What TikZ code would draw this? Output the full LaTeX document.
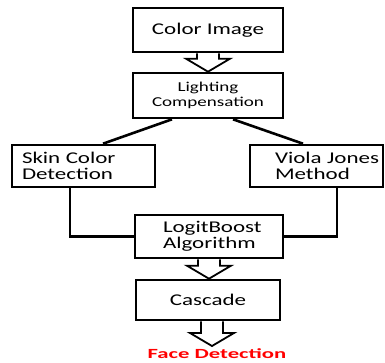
\documentclass[tikz,border=0pt]{standalone}
\usepackage{fontspec}
\setmainfont{Carlito}[FakeStretch=1.4]
\newfontfamily\facefont{Carlito}[FakeStretch=1.62]
\usetikzlibrary{calc}

\tikzset{
  box/.style={draw, line width=2.6pt, inner ysep=0pt, font=\fontsize{16.4}{16}\selectfont},
  hollow/.style={draw, line width=1.8pt, line join=miter},
}

% fat outlined arrow, from the bottom of #1 down to #2
\newcommand{\blockarrow}[2]{%
  \draw[hollow] let \p1=(#1), \p2=(#2) in
    (\x1-11pt,\y1) -- (\x1-11pt,\y2+13pt) -- (\x1-22pt,\y2+13pt) -- (\x1,\y2)
    -- (\x1+22pt,\y2+13pt) -- (\x1+11pt,\y2+13pt) -- (\x1+11pt,\y1);
}

\begin{document}
\begin{tikzpicture}[x=1pt, y=-1pt]
\useasboundingbox (0,0) rectangle (385,362);

\node (ci) at (208, 30) [box, minimum width=150pt, minimum height=44pt] {Color Image};
\node (lc) at (208, 95.5) [box, minimum width=150pt, minimum height=45pt, align=center,
    font=\fontsize{13.6}{14.5}\selectfont] {Lighting\\Compensation};
\node (skin) at (83.5, 166) [box, text width=123pt, inner xsep=10pt, minimum height=42pt, align=left] {Skin Color\\Detection};
\node (viola) at (316.5, 166) [box, text width=83pt, inner xsep=25pt, minimum height=42pt, align=left] {Viola~Jones\\Method};
\node (lb) at (209, 236.5) [box, text width=92pt, inner xsep=28pt, minimum height=43pt, align=left] {LogitBoost\\Algorithm};
\node (cas) at (208, 300) [box, minimum width=144pt, minimum height=40pt] {Cascade};
\node (face) at (217, 348) [anchor=north, inner sep=0pt, text=red,
    font=\facefont\bfseries\fontsize{14}{15}\selectfont] {Face Detection};

\blockarrow{ci.south}{lc.north}
\draw[line width=2.6pt] ([xshift=-36pt]lc.south) -- ([xshift=19.5pt]skin.north);
\draw[line width=2.6pt] ([xshift=25pt]lc.south) -- ([xshift=-13.5pt]viola.north);
\draw[line width=2.6pt] ([xshift=-13.5pt]skin.south) |- (lb.west);
\draw[line width=2.6pt] ([xshift=20.5pt]viola.south) |- (lb.east);
\blockarrow{lb.south}{cas.north}
\blockarrow{[xshift=4pt]cas.south}{[yshift=2pt]face.north}
\end{tikzpicture}
\end{document}
